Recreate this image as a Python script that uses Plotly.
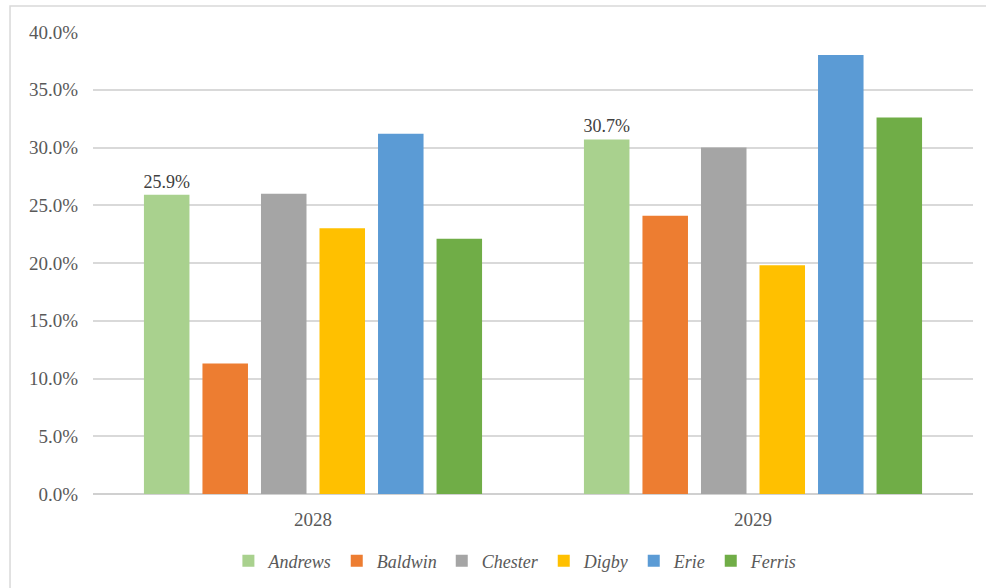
import plotly.graph_objects as go

years = ["2028", "2029"]
companies = ["Andrews", "Baldwin", "Chester", "Digby", "Erie", "Ferris"]
values = {
    "Andrews": [25.9, 30.7],
    "Baldwin": [11.3, 24.1],
    "Chester": [26.0, 30.0],
    "Digby": [23.0, 19.8],
    "Erie": [31.2, 38.0],
    "Ferris": [22.1, 32.6],
}
colors = ["#A9D18E", "#ED7D31", "#A5A5A5", "#FFC000", "#5B9BD5", "#70AD47"]
labelled = "Andrews"

FONT = "Liberation Serif"
fig = go.Figure()
for name, col in zip(companies, colors):
    vals = [v / 100 for v in values[name]]
    fig.add_trace(go.Bar(
        x=years, y=vals, name=name, marker=dict(color=col, line=dict(width=0)),
        text=[f"{v:.1f}%" for v in values[name]] if name == labelled else None,
        textposition="outside" if name == labelled else None,
        textfont=dict(family=FONT, size=18, color="#404040"),
        constraintext="none",
        cliponaxis=False,
    ))

fig.update_layout(
    width=986, height=588,
    margin=dict(l=93, r=13, t=32, b=94, autoexpand=False),
    paper_bgcolor="white", plot_bgcolor="white",
    barmode="group", bargap=0.202, bargroupgap=0.222,
    font=dict(family=FONT, color="#595959", size=18),
    yaxis=dict(range=[0, 0.4], dtick=0.05, tickformat=".1%", gridcolor="#d9d9d9",
               gridwidth=1.5, zeroline=True, zerolinecolor="#d0d0d0", zerolinewidth=2,
               showline=False, ticks="", ticklabelstandoff=14,
               tickfont=dict(family=FONT, size=19, color="#595959")),
    xaxis=dict(showline=False, ticks="", ticklabelstandoff=12,
               tickfont=dict(family=FONT, size=19, color="#595959")),
    legend=dict(orientation="h", x=0.48, xanchor="center", y=-0.145, yanchor="middle",
                font=dict(family=FONT, size=18, color="#595959", style="italic"),
                tracegroupgap=0),
    showlegend=True,
    shapes=[dict(type="rect", xref="paper", yref="paper",
                 x0=-0.0943, x1=1.2, y0=-0.4, y1=1.0563,
                 line=dict(color="#d9d9d9", width=1.5), fillcolor="rgba(0,0,0,0)", layer="below")],
)
fig.write_html("out.html", config={"displayModeBar": False},
               post_script="document.body.style.margin='0';document.body.style.padding='0';")
